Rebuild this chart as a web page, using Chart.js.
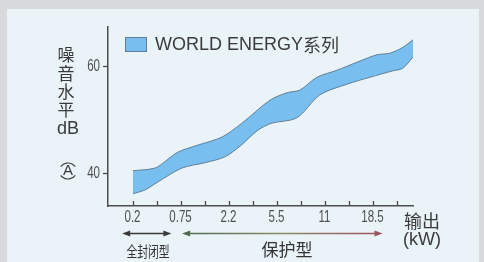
<!DOCTYPE html>
<html><head><meta charset="utf-8">
<script src="https://cdn.jsdelivr.net/npm/chart.js@4"></script>
<style>
html,body{margin:0;padding:0;}
body{width:484px;height:262px;background:#d9dadb;position:relative;overflow:hidden;}
#panel{position:absolute;left:7px;top:9px;width:472px;height:253px;background:#eaf3f7;}
#c{position:absolute;left:0;top:0;}
</style></head><body>
<div id="panel"></div>
<canvas id="c" width="484" height="262"></canvas>
<script>
// x positions are tick indices (0 = 0.2 kW ... 10 = 18.5 kW)
const xTickLabels = ['0.2','','0.75','','2.2','','5.5','','11','','18.5',''];
const yTickValues = [40, 60];
const seriesName = 'WORLD ENERGY系列';
const upperX = [0, 0.92, 1.33, 1.88, 2.71, 3.71, 4.54, 5.71, 6.42, 6.96, 7.67, 8.5, 9.33, 10.17, 10.71, 11.25, 11.75];
const upperY = [40.4, 40.9, 42.1, 43.9, 45.2, 46.7, 49.3, 53.6, 55.0, 55.5, 57.9, 59.2, 60.7, 62.1, 62.4, 63.5, 65.2];
const lowerX = [0, 0.5, 1.04, 2.04, 3.0, 3.83, 4.46, 5.21, 5.79, 6.83, 7.79, 8.92, 9.88, 10.83, 11.25, 11.75];
const lowerY = [36.1, 36.8, 38.3, 40.9, 41.9, 43.0, 45.0, 48.0, 49.3, 50.3, 54.6, 56.6, 57.9, 59.1, 59.6, 62.1];
const yTitleChars = ['噪','音','水','平'];
const yUnit = 'dB';
const xTitle = ['输出','(kW)'];
const rangeLabels = ['全封闭型','保护型'];
const rangeSpans = [[-0.45, 1.6], [2.05, 10.4]];

const fillCol = 'rgb(120,190,238)';
const lineCol = '#5f7f98';
const axisCol = '#4d4d4d';
const latinFont = '"Liberation Sans", Arial, sans-serif';
const cjk = '"Noto Sans CJK SC","Noto Sans",sans-serif';

function narrowText(ctx, txt, x, y, sx, align) {
  ctx.save(); ctx.translate(x, y); ctx.scale(sx, 1);
  ctx.textAlign = align; ctx.fillText(txt, 0, 0); ctx.restore();
}

const decor = {
  id: 'decor',
  afterDraw(chart) {
    const ctx = chart.ctx, xs = chart.scales.x, ys = chart.scales.y, a = chart.chartArea;
    ctx.save();
    // upward x ticks + labels
    ctx.strokeStyle = axisCol; ctx.lineWidth = 1.3;
    ctx.fillStyle = '#505050'; ctx.textBaseline = 'middle';
    ctx.font = '17px ' + latinFont;
    xTickLabels.forEach((l, i) => {
      const px = Math.round(xs.getPixelForValue(i)) + 0.5;
      ctx.beginPath(); ctx.moveTo(px, a.bottom); ctx.lineTo(px, a.bottom - 5); ctx.stroke();
      if (l) narrowText(ctx, l, px - 1, 217, 0.68, 'center');
    });
    // y ticks + labels
    yTickValues.forEach(v => {
      const py = Math.round(ys.getPixelForValue(v)) + 0.5;
      ctx.beginPath(); ctx.moveTo(a.left, py); ctx.lineTo(a.left - 5, py); ctx.stroke();
      narrowText(ctx, String(v), a.left - 8, py, 0.68, 'right');
    });
    // legend
    ctx.fillStyle = fillCol; ctx.strokeStyle = lineCol; ctx.lineWidth = 1;
    ctx.fillRect(125, 37, 22, 15); ctx.strokeRect(125.5, 37.5, 21, 14);
    ctx.fillStyle = '#3b3b3b'; ctx.textAlign = 'left';
    ctx.font = '18px ' + latinFont;
    const latin = 'WORLD ENERGY';
    ctx.fillText(latin, 155, 45);
    const w = ctx.measureText(latin).width;
    ctx.font = '18px ' + cjk;
    ctx.fillText(seriesName.slice(latin.length), 155 + w, 45);
    // y title
    ctx.textAlign = 'center'; ctx.fillStyle = '#3a3a3a';
    ctx.font = '17px ' + cjk;
    yTitleChars.forEach((ch, i) => ctx.fillText(ch, 66, 55 + i * 18.3));
    ctx.font = '18px ' + latinFont;
    ctx.fillText(yUnit, 68, 129);
    // A with arcs
    ctx.font = '15px ' + latinFont;
    ctx.fillText('A', 68, 171);
    ctx.strokeStyle = '#404040'; ctx.lineWidth = 1.2;
    ctx.beginPath(); ctx.arc(68, 172, 9, Math.PI * 1.2, Math.PI * 1.8); ctx.stroke();
    ctx.beginPath(); ctx.arc(68, 170, 9, Math.PI * 0.2, Math.PI * 0.8); ctx.stroke();
    // x title
    ctx.font = '18px ' + cjk; ctx.fillStyle = '#3b3b3b';
    ctx.fillText(xTitle[0], 422, 221);
    ctx.font = '18px ' + latinFont;
    ctx.fillText(xTitle[1], 422, 240);
    // range arrows
    const ay = 233.5;
    rangeSpans.forEach((sp, k) => {
      const x0 = xs.getPixelForValue(sp[0]), x1 = xs.getPixelForValue(sp[1]);
      let col = '#3a3a3a';
      if (k === 1) {
        const g = ctx.createLinearGradient(x0, 0, x1, 0);
        g.addColorStop(0, '#4d6a4d'); g.addColorStop(0.5, '#8a8a6a'); g.addColorStop(1, '#a0505a');
        col = g;
      }
      ctx.strokeStyle = col; ctx.fillStyle = col; ctx.lineWidth = 1.5;
      ctx.beginPath(); ctx.moveTo(x0 + 5, ay); ctx.lineTo(x1 - 5, ay); ctx.stroke();
      ctx.beginPath(); ctx.moveTo(x0, ay); ctx.lineTo(x0 + 8, ay - 3); ctx.lineTo(x0 + 8, ay + 3); ctx.closePath(); ctx.fill();
      ctx.beginPath(); ctx.moveTo(x1, ay); ctx.lineTo(x1 - 8, ay - 3); ctx.lineTo(x1 - 8, ay + 3); ctx.closePath(); ctx.fill();
    });
    ctx.fillStyle = '#333';
    ctx.font = '15px ' + cjk;
    narrowText(ctx, rangeLabels[0], 148, 251, 0.72, 'center');
    ctx.font = '17px ' + cjk;
    ctx.textAlign = 'center';
    ctx.fillText(rangeLabels[1], 287, 250);
    ctx.restore();
  }
};

const toPts = (xs, ys) => xs.map((x, i) => ({x, y: ys[i]}));

new Chart(document.getElementById('c'), {
  type: 'line',
  data: {
    datasets: [
      { label: seriesName, data: toPts(lowerX, lowerY), borderColor: lineCol, borderWidth: 1, pointRadius: 0, fill: false, tension: 0.3 },
      { label: seriesName, data: toPts(upperX, upperY), borderColor: lineCol, borderWidth: 1, pointRadius: 0, fill: '-1', backgroundColor: fillCol, tension: 0.3 }
    ]
  },
  options: {
    responsive: false, animation: false, devicePixelRatio: 1,
    layout: { padding: { top: 27, right: 71, left: 0, bottom: 0 } },
    plugins: { legend: { display: false }, tooltip: { enabled: false } },
    scales: {
      x: {
        type: 'linear', min: -1.04, max: 11.67,
        afterBuildTicks: s => { s.ticks = xTickLabels.map((l, i) => ({ value: i })); },
        afterFit: s => { s.height = 56; },
        grid: { display: false },
        border: { display: true, color: axisCol, width: 1.5 },
        ticks: { display: false }
      },
      y: {
        type: 'linear', min: 33.8, max: 67.3,
        afterBuildTicks: s => { s.ticks = yTickValues.map(v => ({ value: v })); },
        afterFit: s => { s.width = 108; },
        grid: { display: false },
        border: { display: true, color: axisCol, width: 1.5 },
        ticks: { display: false }
      }
    }
  },
  plugins: [decor]
});
</script>
</body></html>
